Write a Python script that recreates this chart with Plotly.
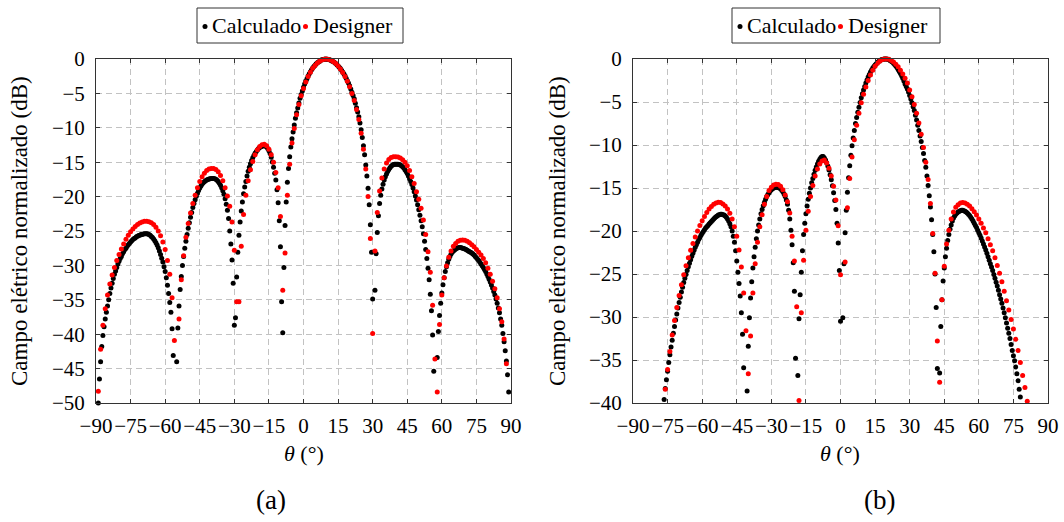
import numpy as np
import plotly.graph_objects as go

# ---------------- data ----------------
# (a) Calculado: theta = -89 .. 89 step 0.5
calc_a = [
    -50.0, -46.5, -44.0, -41.8, -40.2, -38.9, -37.8, -36.8, -35.9, -35.0,
    -34.1, -33.3, -32.6, -31.9, -31.3, -30.8, -30.3, -29.8, -29.4, -29.0,
    -28.7, -28.3, -28.0, -27.7, -27.5, -27.2, -27.0, -26.8, -26.6, -26.4,
    -26.25, -26.1, -26.0, -25.85, -25.75, -25.65, -25.6, -25.5, -25.5, -25.45,
    -25.4, -25.4, -25.4, -25.45, -25.5, -25.6, -25.8, -25.95, -26.15, -26.4,
    -26.7, -27.05, -27.45, -27.9, -28.4, -28.95, -29.5, -30.2, -30.9, -31.8,
    -32.9, -34.1, -35.4, -36.8, -39.2, -43.1, None, None, -44.0, -39.1,
    -35.9, -33.5, -31.6, -30.0, -28.7, -27.5, -26.5, -25.5, -24.6, -23.8,
    -23.0, -22.3, -21.6, -21.0, -20.45, -19.95, -19.5, -19.1, -18.75, -18.45,
    -18.2, -18.0, -17.85, -17.7, -17.6, -17.5, -17.45, -17.4, -17.38, -17.36,
    -17.36, -17.4, -17.48, -17.62, -17.8, -18.05, -18.35, -18.7, -19.15, -19.65,
    -20.3, -21.1, -22.0, -23.2, -25.0, -26.9, -29.2, -32.6, -38.7, -37.6,
    -31.7, -28.1, -25.6, -23.7, -22.1, -20.8, -19.6, -18.6, -17.8, -17.0,
    -16.33, -15.75, -15.24, -14.77, -14.37, -14.01, -13.7, -13.44, -13.21, -13.02,
    -12.86, -12.75, -12.67, -12.62, -12.6, -12.64, -12.78, -13.01, -13.32, -13.75,
    -14.29, -14.96, -15.75, -16.6, -17.6, -19.0, -20.9, -23.5, -27.3, -35.3,
    -39.8, -30.3, -24.2, -20.8, -17.9, -15.9, -14.2, -12.8, -11.6, -10.6,
    -9.6, -8.6, -7.83, -7.11, -6.39, -5.7, -5.17, -4.64, -4.11, -3.64,
    -3.25, -2.86, -2.47, -2.15, -1.87, -1.58, -1.29, -1.1, -0.9, -0.7,
    -0.53, -0.42, -0.31, -0.19, -0.12, -0.08, -0.04, 0.0, -0.02, -0.05,
    -0.09, -0.13, -0.21, -0.31, -0.41, -0.51, -0.65, -0.82, -1.0, -1.19,
    -1.39, -1.65, -1.9, -2.16, -2.45, -2.8, -3.15, -3.5, -3.87, -4.35,
    -4.83, -5.3, -5.78, -6.42, -7.07, -7.72, -8.4, -9.3, -10.3, -11.4,
    -12.6, -13.9, -15.4, -17.0, -18.8, -21.2, -24.1, -28.1, -34.9, None,
    -33.6, -28.3, -25.2, -22.8, -21.0, -19.8, -18.9, -18.2, -17.6, -17.1,
    -16.7, -16.35, -16.05, -15.8, -15.6, -15.45, -15.35, -15.3, -15.3, -15.3,
    -15.3, -15.35, -15.4, -15.5, -15.65, -15.85, -16.1, -16.35, -16.65, -17.0,
    -17.4, -17.8, -18.25, -18.75, -19.3, -19.9, -20.5, -21.2, -21.9, -22.7,
    -23.5, -24.4, -25.4, -26.5, -27.7, -29.0, -30.4, -32.1, -34.2, -36.6,
    -40.1, -45.4, None, None, -43.4, -39.6, -37.3, -35.5, -34.0, -32.8,
    -31.8, -30.9, -30.2, -29.6, -29.1, -28.7, -28.35, -28.1, -27.9, -27.75,
    -27.6, -27.5, -27.45, -27.4, -27.4, -27.45, -27.5, -27.55, -27.6, -27.7,
    -27.8, -27.9, -28.0, -28.1, -28.2, -28.35, -28.5, -28.7, -28.9, -29.1,
    -29.3, -29.55, -29.8, -30.05, -30.3, -30.6, -30.9, -31.25, -31.6, -32.0,
    -32.4, -32.85, -33.3, -33.8, -34.3, -34.9, -35.5, -36.2, -36.9, -37.8,
    -38.7, -39.9, -41.1, -42.4, -43.9, -45.9, -48.4,
]
theta_calc_a = np.arange(-89, 89.001, 0.5)

# (a) Designer: theta = -89 .. 89 step 1
des_a = [
    -48.3, -42.2, -38.7, -36.3, -34.3, -32.7, -31.4, -30.3, -29.3, -28.4,
    -27.6, -26.9, -26.2, -25.6, -25.1, -24.7, -24.35, -24.05, -23.85, -23.7,
    -23.6, -23.6, -23.65, -23.8, -24.05, -24.45, -25.0, -25.7, -26.6, -27.7,
    -29.3, -31.3, -34.7, -40.9, None, -37.8, -32.1, -28.6, -25.9, -23.9,
    -22.4, -21.0, -19.8, -18.7, -17.8, -17.1, -16.6, -16.2, -16.0, -15.9,
    -15.9, -16.05, -16.4, -16.95, -17.7, -18.7, -19.9, -21.4, -23.7, -27.8,
    -35.3, -35.3, -27.2, -22.6, -19.8, -17.7, -16.1, -14.9, -13.9, -13.2,
    -12.7, -12.45, -12.4, -12.6, -13.1, -13.9, -15.0, -16.5, -18.7, -22.9,
    -33.6, -28.2, -19.8, -15.3, -12.2, -10.1, -8.1, -6.6, -5.35, -4.28,
    -3.36, -2.55, -1.93, -1.35, -0.93, -0.57, -0.31, -0.13, -0.03, 0.0,
    -0.08, -0.18, -0.4, -0.65, -1.03, -1.45, -1.96, -2.55, -3.25, -4.05,
    -5.0, -6.05, -7.35, -8.8, -10.8, -13.1, -16.0, -20.0, -26.1, -39.9,
    -27.9, -22.3, -19.2, -17.3, -16.0, -15.1, -14.6, -14.3, -14.2, -14.2,
    -14.25, -14.4, -14.65, -15.0, -15.5, -16.2, -17.1, -18.1, -19.3, -20.4,
    -21.7, -23.4, -25.5, -28.0, -31.0, -35.8, -43.6, -48.4, -38.6, -34.3,
    -31.8, -30.1, -28.8, -27.9, -27.2, -26.8, -26.5, -26.35, -26.3, -26.35,
    -26.5, -26.7, -27.0, -27.3, -27.7, -28.1, -28.5, -29.0, -29.6, -30.4,
    -31.3, -32.3, -33.4, -34.7, -36.3, -38.2, -40.7, -44.3, None,
]
theta_des_a = np.arange(-89, 89.001, 1.0)

# (b) Calculado: theta = -77 .. 78.5 step 0.5
calc_b = [
    None, -39.6, -38.3, -37.3, -36.3, -35.3, -34.4, -33.5, -32.7, -31.9,
    -31.1, -30.35, -29.65, -28.95, -28.3, -27.7, -27.1, -26.55, -26.0, -25.5,
    -25.05, -24.6, -24.15, -23.75, -23.35, -22.95, -22.6, -22.25, -21.9, -21.6,
    -21.3, -21.0, -20.75, -20.5, -20.25, -20.05, -19.85, -19.65, -19.5, -19.35,
    -19.2, -19.05, -18.9, -18.75, -18.6, -18.45, -18.35, -18.25, -18.15, -18.1,
    -18.05, -18.05, -18.1, -18.15, -18.25, -18.4, -18.6, -18.85, -19.15, -19.5,
    -20.0, -20.6, -21.3, -22.3, -23.5, -24.8, -26.1, -27.55, -29.5, -32.0,
    -35.9, None, None, -38.6, -33.4, -30.1, -27.8, -25.9, -24.3, -23.0,
    -21.9, -20.9, -20.0, -19.3, -18.6, -18.0, -17.5, -17.05, -16.65, -16.3,
    -16.0, -15.75, -15.55, -15.35, -15.2, -15.1, -15.0, -14.93, -14.9, -14.9,
    -14.95, -15.0, -15.1, -15.25, -15.45, -15.7, -16.0, -16.4, -16.9, -17.6,
    -18.6, -19.9, -21.6, -23.7, -27.0, -34.8, None, -36.8, -30.2, -27.4,
    -24.8, -22.3, -20.4, -19.1, -18.0, -17.1, -16.3, -15.6, -15.0, -14.4,
    -13.9, -13.4, -12.95, -12.55, -12.2, -11.9, -11.65, -11.45, -11.35, -11.35,
    -11.5, -11.75, -12.05, -12.45, -12.9, -13.45, -14.05, -14.75, -15.55, -16.45,
    -17.5, -19.1, -21.4, -24.6, -30.5, None, -30.1, -23.8, -20.2, -17.6,
    -15.5, -13.8, -12.4, -11.2, -10.1, -9.2, -8.3, -7.5, -6.8, -6.2,
    -5.6, -5.05, -4.5, -4.05, -3.6, -3.2, -2.8, -2.45, -2.1, -1.8,
    -1.5, -1.27, -1.05, -0.87, -0.7, -0.55, -0.42, -0.3, -0.2, -0.13,
    -0.07, -0.03, -0.01, 0.0, -0.01, -0.04, -0.09, -0.16, -0.25, -0.36,
    -0.49, -0.64, -0.81, -1.0, -1.21, -1.44, -1.69, -1.96, -2.25, -2.56,
    -2.9, -3.2, -3.5, -3.85, -4.25, -4.65, -5.1, -5.55, -6.0, -6.55,
    -7.1, -7.7, -8.3, -8.95, -9.6, -10.3, -11.0, -11.8, -12.6, -13.6,
    -14.7, -15.9, -17.2, -18.7, -20.4, -22.4, -25.0, -28.9, -36.0, None,
    -36.5, -31.1, -28.0, -25.8, -24.3, -23.0, -22.0, -21.1, -20.4, -19.8,
    -19.3, -18.85, -18.5, -18.25, -18.05, -17.9, -17.8, -17.7, -17.65, -17.6,
    -17.6, -17.65, -17.7, -17.8, -17.9, -18.05, -18.2, -18.4, -18.6, -18.85,
    -19.1, -19.35, -19.6, -19.9, -20.2, -20.5, -20.8, -21.15, -21.5, -21.85,
    -22.2, -22.6, -23.0, -23.4, -23.8, -24.2, -24.6, -25.05, -25.5, -25.95,
    -26.4, -26.9, -27.4, -27.9, -28.4, -28.95, -29.5, -30.1, -30.7, -31.3,
    -31.9, -32.5, -33.2, -33.9, -34.5, -35.1, -35.8, -36.6, -37.4, -38.4,
    -39.3, None,
]
theta_calc_b = np.arange(-77, 78.501, 0.5)

# (b) Designer: theta = -77 .. 82 step 1
des_b = [
    None, -38.4, -36.1, -34.0, -32.1, -30.4, -28.9, -27.5, -26.25, -25.1,
    -24.05, -23.1, -22.25, -21.45, -20.7, -20.0, -19.35, -18.8, -18.3, -17.85,
    -17.45, -17.15, -16.9, -16.75, -16.65, -16.7, -16.85, -17.1, -17.45, -17.95,
    -18.6, -19.5, -20.6, -22.2, -24.2, -27.2, -31.6, -36.6, -32.2, -27.2,
    -23.8, -21.3, -19.5, -18.1, -16.9, -16.0, -15.3, -14.9, -14.65, -14.55,
    -14.6, -14.8, -15.2, -15.8, -16.6, -17.9, -20.6, -23.5, -28.8, -39.7,
    -29.5, -23.4, -19.9, -17.7, -16.0, -14.7, -13.6, -12.8, -12.2, -11.85,
    -11.75, -12.1, -12.7, -13.6, -14.8, -16.4, -19.4, -25.1, None, -23.6,
    -17.3, -13.9, -11.4, -9.4, -7.7, -6.3, -5.1, -4.1, -3.25, -2.5,
    -1.85, -1.3, -0.85, -0.5, -0.25, -0.08, -0.01, 0.0, -0.04, -0.17,
    -0.35, -0.6, -0.9, -1.3, -1.75, -2.25, -2.8, -3.6, -4.4, -5.3,
    -6.3, -7.45, -8.75, -10.3, -12.0, -14.0, -16.8, -20.3, -24.9, -32.8,
    -37.6, -28.0, -24.1, -21.5, -19.9, -18.6, -17.8, -17.25, -16.95, -16.75,
    -16.7, -16.75, -16.9, -17.1, -17.4, -17.75, -18.15, -18.6, -19.1, -19.65,
    -20.2, -20.9, -21.6, -22.3, -23.1, -24.0, -24.9, -25.9, -27.0, -28.1,
    -29.2, -30.3, -31.4, -32.6, -33.9, -35.3, -36.8, -38.2, -39.8, None,
]
theta_des_b = np.arange(-77, 82.001, 1.0)

for t, v, n in [(theta_calc_a, calc_a, "calc_a"), (theta_des_a, des_a, "des_a"),
                (theta_calc_b, calc_b, "calc_b"), (theta_des_b, des_b, "des_b")]:
    assert len(t) == len(v), f"{n}: {len(t)} vs {len(v)}"

x_ticks = [-90, -75, -60, -45, -30, -15, 0, 15, 30, 45, 60, 75, 90]
x_labels = ["−90", "−75", "−60", "−45", "−30", "−15", "0", "15", "30", "45", "60", "75", "90"]
y_ticks_a = [0, -5, -10, -15, -20, -25, -30, -35, -40, -45, -50]
y_labels_a = ["0", "−5", "−10", "−15", "−20", "−25", "−30", "−35", "−40", "−45", "−50"]
y_ticks_b = [0, -5, -10, -15, -20, -25, -30, -35, -40]
y_labels_b = ["0", "−5", "−10", "−15", "−20", "−25", "−30", "−35", "−40"]

series_names = ["Calculado", "Designer"]
series_colors = ["#000000", "#ff0000"]
y_title = "Campo elétrico normalizado (dB)"
x_title = "<i>θ</i> (°)"
captions = ["(a)", "(b)"]

# ---------------- figure ----------------
W, H = 1064, 522
FONT = "Liberation Serif"


def X(px):
    return px / W


def Y(py):
    return 1 - py / H


fig = go.Figure()

fig.add_trace(go.Scatter(x=theta_calc_a, y=calc_a, mode="markers", name=series_names[0],
                         marker=dict(color=series_colors[0], size=5, line=dict(width=0)),
                         xaxis="x", yaxis="y", cliponaxis=False, showlegend=False))
fig.add_trace(go.Scatter(x=theta_des_a, y=des_a, mode="markers", name=series_names[1],
                         marker=dict(color=series_colors[1], size=5, line=dict(width=0)),
                         xaxis="x", yaxis="y", cliponaxis=False, showlegend=False))
fig.add_trace(go.Scatter(x=theta_calc_b, y=calc_b, mode="markers", name=series_names[0],
                         marker=dict(color=series_colors[0], size=5, line=dict(width=0)),
                         xaxis="x2", yaxis="y2", cliponaxis=False, showlegend=False))
fig.add_trace(go.Scatter(x=theta_des_b, y=des_b, mode="markers", name=series_names[1],
                         marker=dict(color=series_colors[1], size=5, line=dict(width=0)),
                         xaxis="x2", yaxis="y2", cliponaxis=False, showlegend=False))

axis_common = dict(
    showline=True, linecolor="#333333", linewidth=1, mirror="ticks",
    ticks="inside", ticklen=4, tickcolor="#333333", tickwidth=1,
    showgrid=True, gridcolor="#c2c2c2", gridwidth=1, griddash="6px,4px",
    zeroline=False, automargin=False, tickangle=0,
    tickfont=dict(family=FONT, size=21, color="black"),
)

plot_left = [96, 633]
plot_right = [511, 1048]
plot_top, plot_bottom = 59, 403

fig.update_layout(
    template="none",
    width=W, height=H, autosize=False,
    margin=dict(l=0, r=0, t=0, b=0, pad=0),
    paper_bgcolor="white", plot_bgcolor="white",
    font=dict(family=FONT, color="black"),
    xaxis=dict(domain=[X(plot_left[0]), X(plot_right[0])], range=[-90, 90],
               tickvals=x_ticks, ticktext=x_labels, anchor="y", ticklabelstandoff=4, **axis_common),
    yaxis=dict(domain=[Y(plot_bottom), Y(plot_top)], range=[-50, 0],
               tickvals=y_ticks_a, ticktext=y_labels_a, anchor="x", ticklabelstandoff=6, **axis_common),
    xaxis2=dict(domain=[X(plot_left[1]), X(plot_right[1])], range=[-90, 90],
                tickvals=x_ticks, ticktext=x_labels, anchor="y2", ticklabelstandoff=4, **axis_common),
    yaxis2=dict(domain=[Y(plot_bottom), Y(plot_top)], range=[-40, 0],
                tickvals=y_ticks_b, ticktext=y_labels_b, anchor="x2", ticklabelstandoff=6, **axis_common),
    showlegend=False,
)

annotations = []
shapes = []
for i in range(2):
    cx = (plot_left[i] + plot_right[i]) / 2
    ytx = [20, 558][i]
    annotations.append(dict(text=y_title, x=X(ytx), y=Y(231), xref="paper", yref="paper",
                            textangle=-90, showarrow=False, xanchor="center", yanchor="middle",
                            font=dict(family=FONT, size=23, color="black")))
    annotations.append(dict(text=x_title, x=X(cx), y=Y(453), xref="paper", yref="paper",
                            showarrow=False, xanchor="center", yanchor="middle",
                            font=dict(family=FONT, size=22, color="black")))
    annotations.append(dict(text=captions[i], x=X([271, 879][i]), y=Y(500), xref="paper", yref="paper",
                            showarrow=False, xanchor="center", yanchor="middle",
                            font=dict(family=FONT, size=27, color="black")))
    # legend box
    bx0 = [197, 732][i]
    bx1 = [403, 940][i]
    shapes.append(dict(type="rect", xref="paper", yref="paper", x0=X(bx0), x1=X(bx1),
                       y0=Y(43), y1=Y(8), line=dict(color="#333333", width=1),
                       fillcolor="white", layer="above"))
    dot_x = [bx0 + 8, bx0 + 108.5]
    text_x = [bx0 + 13, bx0 + 114]
    for k in range(2):
        shapes.append(dict(type="circle", xref="paper", yref="paper",
                           x0=X(dot_x[k] - 2.5), x1=X(dot_x[k] + 2.5),
                           y0=Y(26.5 + 2.5), y1=Y(26.5 - 2.5),
                           fillcolor=series_colors[k], line=dict(width=0), layer="above"))
        annotations.append(dict(text=series_names[k], x=X(text_x[k]), y=Y(25.5),
                                xref="paper", yref="paper", showarrow=False,
                                xanchor="left", yanchor="middle",
                                font=dict(family=FONT, size=22, color="black")))

fig.update_layout(annotations=annotations, shapes=shapes)

fig.write_html("out.html", config={"displayModeBar": False},
               post_script="document.body.style.margin='0';")
